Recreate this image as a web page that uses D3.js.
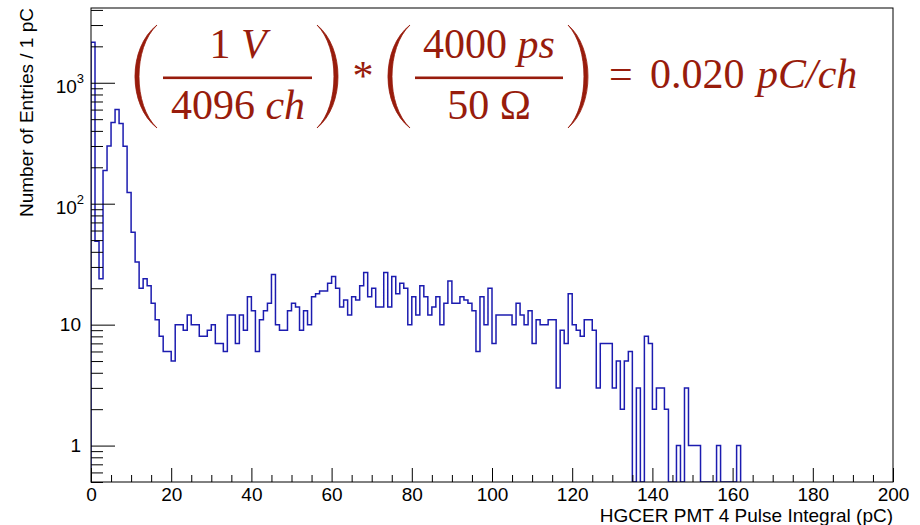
<!DOCTYPE html>
<html>
<head>
<meta charset="utf-8">
<script src="https://cdn.jsdelivr.net/npm/d3@7"></script>
<style>
  html, body { margin: 0; padding: 0; background: #fff; }
  svg { display: block; font-family: "Liberation Sans", Arial, Helvetica, sans-serif; }
</style>
</head>
<body>
<svg id="chart"></svg>
<script>
// --- DATA (1 pC bins starting at 0) ---
const binLow = 0;
const binWidth = 1;
const counts = [
  2160, 49, 24, 188, 300, 470, 600, 460, 298, 124,   // 0-9
  58, 33, 20, 24, 21, 15, 11, 8, 6, 6,                // 10-19
  5, 10, 10, 9, 12, 10, 10, 8, 8, 9,                  // 20-29
  10, 7, 7, 6, 12, 12, 7, 12, 9, 17,                  // 30-39
  13, 6, 11, 13, 15, 26, 10, 9, 9, 13,                // 40-49
  15, 14, 9, 13, 10, 17, 18, 19, 19, 22,              // 50-59
  25, 20, 14, 16, 12, 17, 16, 21, 27, 17,             // 60-69
  20, 14, 14, 27, 14, 25, 18, 22, 20, 10,             // 70-79
  17, 12, 21, 17, 12, 14, 17, 10, 15, 23,             // 80-89
  15, 15, 17, 16, 15, 13, 6, 17, 10, 20,              // 90-99
  7, 12, 12, 12, 12, 10, 15, 12, 10, 13,              // 100-109
  7, 11, 10, 10, 11, 11, 3, 9, 7, 18,                 // 110-119
  10, 9, 8, 11, 11, 9, 3, 7, 7, 7,                    // 120-129
  3, 5, 2, 5, 6, 0, 3, 0, 8, 7,                       // 130-139
  2, 3, 3, 2, 0, 0, 1, 0, 3, 1,                       // 140-149
  1, 1, 0, 0, 0, 0, 1, 0, 0, 0,                       // 150-159
  0, 1                                                // 160-161
];
const xDomain = [0, 200];
const yDomain = [0.5, 4150];
const xMajorTicks = [0, 20, 40, 60, 80, 100, 120, 140, 160, 180, 200];
const yMajorTicks = [1, 10, 100, 1000];
const xTitle = "HGCER PMT 4 Pulse Integral (pC)";
const yTitle = "Number of Entries / 1 pC";

// --- LAYOUT ---
const width = 920, height = 525;
const margin = { top: 8, right: 27, bottom: 43, left: 91 };
const innerW = width - margin.left - margin.right;
const innerH = height - margin.top - margin.bottom;

const svg = d3.select("#chart").attr("width", width).attr("height", height);
const g = svg.append("g").attr("transform", `translate(${margin.left},${margin.top})`);

// --- SCALES ---
const x = d3.scaleLinear().domain(xDomain).range([0, innerW]);
const y = d3.scaleLog().domain(yDomain).range([innerH, 0]);

// clip for histogram
svg.append("defs").append("clipPath").attr("id", "frame-clip")
  .append("rect").attr("width", innerW).attr("height", innerH);

// --- HISTOGRAM ---
const yv = c => c > 0 ? y(c) : innerH;
const pts = [[binLow, 0]];
counts.forEach((c, i) => pts.push([binLow + i * binWidth, c]));
pts.push([binLow + counts.length * binWidth, counts[counts.length - 1]]);
pts.push([binLow + counts.length * binWidth, 0]);

const line = d3.line().x(d => x(d[0])).y(d => yv(d[1])).curve(d3.curveStepAfter);
g.append("path")
  .attr("clip-path", "url(#frame-clip)")
  .attr("d", line(pts))
  .attr("fill", "none")
  .attr("stroke", "#1c1cb0")
  .attr("stroke-width", 1.5)
  .attr("stroke-linejoin", "miter");

// --- AXES (ROOT style ticks pointing inward) ---
const fontSize = 19;

// x minor ticks every 5
g.append("g").attr("transform", `translate(0,${innerH})`)
  .call(d3.axisBottom(x).tickValues(x.ticks(40).filter(v => v % 20 !== 0)).tickSize(-7).tickFormat(""))
  .call(a => a.select(".domain").remove());

g.append("g").attr("transform", `translate(0,${innerH})`)
  .call(d3.axisBottom(x).tickValues(xMajorTicks).tickSize(-14).tickPadding(6).tickFormat(d3.format("d")))
  .call(a => a.select(".domain").remove())
  .call(a => a.selectAll("text").attr("font-size", fontSize).attr("fill", "#000")
    .attr("font-family", "Liberation Sans, Arial, sans-serif"));

// y minor ticks
const yMinor = y.ticks().filter(v => !yMajorTicks.includes(v));
g.append("g")
  .call(d3.axisLeft(y).tickValues(yMinor).tickSize(-12).tickFormat(""))
  .call(a => a.select(".domain").remove());

const yAxis = g.append("g")
  .call(d3.axisLeft(y).tickValues(yMajorTicks).tickSize(-24).tickPadding(10).tickFormat(""))
  .call(a => a.select(".domain").remove());

yAxis.selectAll(".tick text").each(function(d) {
  const t = d3.select(this)
    .attr("font-size", fontSize).attr("fill", "#000")
    .attr("font-family", "Liberation Sans, Arial, sans-serif");
  const p = Math.round(Math.log10(d));
  if (p < 2) {
    t.text(String(d));
  } else {
    t.attr("x", -7).attr("dy", "0.5em");
    t.append("tspan").text("10");
    t.append("tspan").attr("font-size", 13).attr("dy", "-0.75em").text(String(p));
  }
});

svg.selectAll(".tick line").attr("stroke", "#000").attr("stroke-width", 1);

// frame
g.append("rect").attr("width", innerW).attr("height", innerH)
  .attr("fill", "none").attr("stroke", "#000").attr("stroke-width", 1);

// --- AXIS TITLES ---
svg.append("text")
  .attr("x", margin.left + innerW).attr("y", 522)
  .attr("text-anchor", "end").attr("font-size", fontSize)
  .text(xTitle);

svg.append("text")
  .attr("transform", `translate(33,${margin.top}) rotate(-90)`)
  .attr("text-anchor", "end").attr("font-size", fontSize)
  .text(yTitle);

// --- FORMULA (TLatex-like annotation) ---
const red = "#981c0c";
const ann = svg.append("g").attr("fill", red)
  .attr("font-family", "Liberation Serif, Times New Roman, serif").attr("font-size", 42);

function paren(xTip, xMid, top, bottom, thick) {
  // crescent shaped bracket; xMid is the bulge position
  const k = (yy) => yy;
  const h = bottom - top;
  const out = (xMid - 0.25 * xTip) / 0.75;
  const inn = (xMid + thick - 0.25 * xTip) / 0.75;
  const innR = (xMid - thick - 0.25 * xTip) / 0.75;
  const c = xMid < xTip ? inn : innR;
  const p = d3.path();
  p.moveTo(xTip, k(top));
  p.bezierCurveTo(out, top + h * 0.22, out, bottom - h * 0.22, xTip, bottom);
  p.bezierCurveTo(c, bottom - h * 0.22, c, top + h * 0.22, xTip, top);
  p.closePath();
  ann.append("path").attr("d", p.toString()).attr("stroke", red).attr("stroke-width", 0.8);
}

function frac(cx, num, den, x0, x1) {
  const n = ann.append("text").attr("x", cx).attr("y", 58).attr("text-anchor", "middle");
  num.forEach(s => n.append("tspan").attr("font-style", s.it ? "italic" : "normal").text(s.t));
  ann.append("rect").attr("x", x0).attr("y", 76.5).attr("width", x1 - x0).attr("height", 2.6);
  const d = ann.append("text").attr("x", cx).attr("y", 119).attr("text-anchor", "middle");
  den.forEach(s => d.append("tspan").attr("font-style", s.it ? "italic" : "normal").text(s.t));
}

paren(157, 135, 25, 128, 4);
frac(238, [{ t: "1 " }, { t: "V", it: true }], [{ t: "4096 " }, { t: "ch", it: true }], 163, 312);
paren(317, 338, 25, 128, 4);

ann.append("text").attr("x", 363).attr("y", 90).attr("text-anchor", "middle").text("*");

paren(410, 388, 25, 128, 4);
frac(489, [{ t: "4000 " }, { t: "ps", it: true }], [{ t: "50 Ω" }], 415, 563);
paren(568, 588, 25, 128, 4);

ann.append("text").attr("x", 609).attr("y", 88).text("=");
ann.append("text").attr("x", 650).attr("y", 88).text("0.020");
ann.append("text").attr("x", 757).attr("y", 88).attr("font-style", "italic").text("pC/ch");
</script>
</body>
</html>
